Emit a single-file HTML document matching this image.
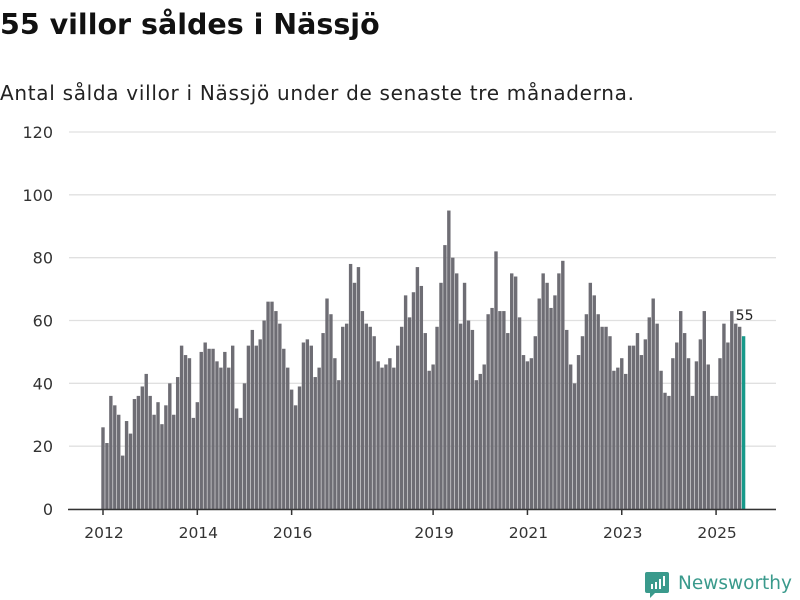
<!DOCTYPE html>
<html><head><meta charset="utf-8"><style>
body{margin:0;background:#fff;width:800px;height:600px;overflow:hidden;font-family:"DejaVu Sans","Liberation Sans",sans-serif;}
#title{position:absolute;left:0;top:8px;font-size:28.5px;font-weight:bold;color:#111;margin:0;white-space:nowrap;font-family:"DejaVu Sans",sans-serif;}
#sub{position:absolute;left:0;top:81px;font-size:20px;letter-spacing:0.7px;color:#222;white-space:nowrap;font-family:"DejaVu Sans",sans-serif;}
svg{position:absolute;left:0;top:0;}
</style></head><body>
<h1 id="title">55 villor såldes i Nässjö</h1>
<div id="sub">Antal sålda villor i Nässjö under de senaste tre månaderna.</div>
<svg id="chart" width="800" height="600"></svg>
<script>
const startYear = 2012;
const values = [26,21,36,33,30,17,28,24,35,36,39,43, 36,30,34,27,33,40,30,42,52,49,48,29, 34,50,53,51,51,47,45,50,45,52,32,29, 40,52,57,52,54,
60,66,66,63,59,51,45,38,33,39,53,54,52,42,45,56,67,62,48,41,58,59,78,72,77,63,59,58,55,47,45,46,48,45,52,58,68,61,69,77,71,56,
44,46,58,72,84,95,80,75,59,72,60,57,41,43,46,62,64,82,63,63,56,75,74,61,49,47,48,55,67,75,72,64,68,75,79,57,46,40,49,55,62,72,68,
62,58,58,55,44,45,48,43,52,52,56,49,54,61,67,59,44,37,36,48,53,63,56,48,36,47,54,63,46,36,36,48,59,53,63,59,58,55];
const yTicks = [0,20,40,60,80,100,120];
const xTickYears = [2012,2014,2016,2019,2021,2023,2025];

const NS='http://www.w3.org/2000/svg';
const svg=document.getElementById('chart');
const y0=509, yTop=132, yMax=120;
const y=v=>y0-(v/yMax)*(y0-yTop);
const step=3.93, x0=103;
const x=i=>x0+i*step;
function mk(tag,attrs){const e=document.createElementNS(NS,tag);for(const k in attrs)e.setAttribute(k,attrs[k]);svg.appendChild(e);return e;}

yTicks.forEach(t=>{
  const g=mk('line',{x1:69,x2:776,y1:y(t),y2:y(t),stroke:'#e0e0e0','stroke-width':1.3});
  
  
  const l=mk('text',{x:53,y:y(t)+6,'text-anchor':'end','font-size':16,fill:'#333','font-family':'DejaVu Sans, sans-serif'});
  l.textContent=t;
  
  
});

values.forEach((v,i)=>{
  const last=i===values.length-1;
  const r=mk('rect',{x:x(i)-1.7,y:y(v),width:3.4,height:y0-y(v),fill:last?'#17998a':'#6e6d74'});
  
  
});
const li=values.length-1;
const vl=mk('text',{x:x(li)+1,y:y(values[li])-16,'text-anchor':'middle','font-size':14,fill:'#222','font-family':'DejaVu Sans, sans-serif'});
vl.textContent=values[li];



const ax=mk('line',{x1:68,x2:776,y1:y0+0.5,y2:y0+0.5,stroke:'#333','stroke-width':1.5});


xTickYears.forEach(yr=>{
  const xx=x((yr-startYear)*12);
  const t=mk('line',{x1:xx,x2:xx,y1:y0,y2:y0+6,stroke:'#333','stroke-width':1.5});
  
  
  const l=mk('text',{x:xx+1,y:538,'text-anchor':'middle','font-size':15.5,fill:'#333','font-family':'DejaVu Sans, sans-serif'});
  l.textContent=yr;
  
  
});

const logo=document.createElementNS(NS,'g');


svg.appendChild(logo);
logo.innerHTML='<path d="M647 572 h20 a2 2 0 0 1 2 2 v17 a2 2 0 0 1 -2 2 h-12 l-5 5 v-5 h-3 a2 2 0 0 1 -2 -2 v-17 a2 2 0 0 1 2 -2z" fill="#3a9a8c"/><rect x="651" y="584" width="2" height="5" fill="#fff"/><rect x="655" y="582" width="2" height="7" fill="#fff"/><rect x="659" y="579" width="2" height="10" fill="#fff"/><rect x="663" y="576" width="2" height="10" fill="#fff"/><text x="678" y="589" font-size="18.5" fill="#3a9a8c" font-family="DejaVu Sans, sans-serif">Newsworthy</text>';
</script>
</body></html>
